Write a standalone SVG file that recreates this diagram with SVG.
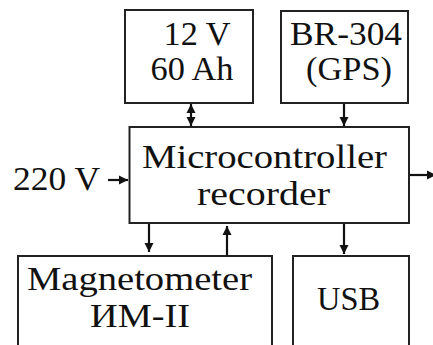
<svg xmlns="http://www.w3.org/2000/svg" width="433" height="345" viewBox="0 0 433 345">
<defs>
<style>
.box{fill:#fff;stroke:#222;stroke-width:2}
.t{font-family:"Times New Roman",Times,"Liberation Serif","DejaVu Serif",serif;font-size:33px;fill:#111;text-anchor:middle}
.c{stroke:#111;stroke-width:2.2;fill:none}
</style>
<marker id="ah" viewBox="0 0 10 10" refX="10" refY="5" markerWidth="4.2" markerHeight="4.2" orient="auto-start-reverse" markerUnits="strokeWidth">
<path d="M0,0 L10,5 L0,10 z" fill="#111"/>
</marker>
</defs>
<rect width="433" height="345" fill="#fff"/>
<g id="battery">
<rect class="box" x="125" y="10" width="128" height="93"/>
<text class="t" x="197" y="45" textLength="67" lengthAdjust="spacingAndGlyphs">12 V</text>
<text class="t" x="192" y="80" textLength="83" lengthAdjust="spacingAndGlyphs">60 Ah</text>
</g>
<g id="gps">
<rect class="box" x="281" y="11" width="127" height="92"/>
<text class="t" x="346" y="45" textLength="112" lengthAdjust="spacingAndGlyphs">BR-304</text>
<text class="t" x="349" y="80" textLength="86" lengthAdjust="spacingAndGlyphs">(GPS)</text>
</g>
<g id="mcu">
<rect class="box" x="129.5" y="127" width="279.5" height="96"/>
<text class="t" x="264.5" y="168" textLength="245" lengthAdjust="spacingAndGlyphs">Microcontroller</text>
<text class="t" x="263.5" y="205" textLength="133" lengthAdjust="spacingAndGlyphs">recorder</text>
</g>
<g id="mag">
<rect class="box" x="18" y="256" width="254" height="100"/>
<text class="t" x="139.5" y="290" textLength="225" lengthAdjust="spacingAndGlyphs">Magnetometer</text>
<text class="t" x="140" y="327" textLength="100" lengthAdjust="spacingAndGlyphs">ИМ-II</text>
</g>
<g id="usb">
<rect class="box" x="293" y="256" width="116" height="100"/>
<text class="t" x="348.5" y="310" textLength="63" lengthAdjust="spacingAndGlyphs">USB</text>
</g>
<g id="input">
<text class="t" x="56.5" y="190" textLength="87" lengthAdjust="spacingAndGlyphs">220 V</text>
</g>
<g id="connectors">
<line class="c" x1="191" y1="104" x2="191" y2="126" marker-start="url(#ah)" marker-end="url(#ah)"/>
<line class="c" x1="344" y1="104" x2="344" y2="126" marker-end="url(#ah)"/>
<line class="c" x1="108" y1="180" x2="128" y2="180" marker-end="url(#ah)"/>
<line class="c" x1="410" y1="175" x2="436" y2="175" marker-end="url(#ah)"/>
<line class="c" x1="149" y1="224" x2="149" y2="252" marker-end="url(#ah)"/>
<line class="c" x1="227" y1="255" x2="227" y2="226" marker-end="url(#ah)"/>
<line class="c" x1="344" y1="224" x2="344" y2="254" marker-end="url(#ah)"/>
</g>
</svg>
